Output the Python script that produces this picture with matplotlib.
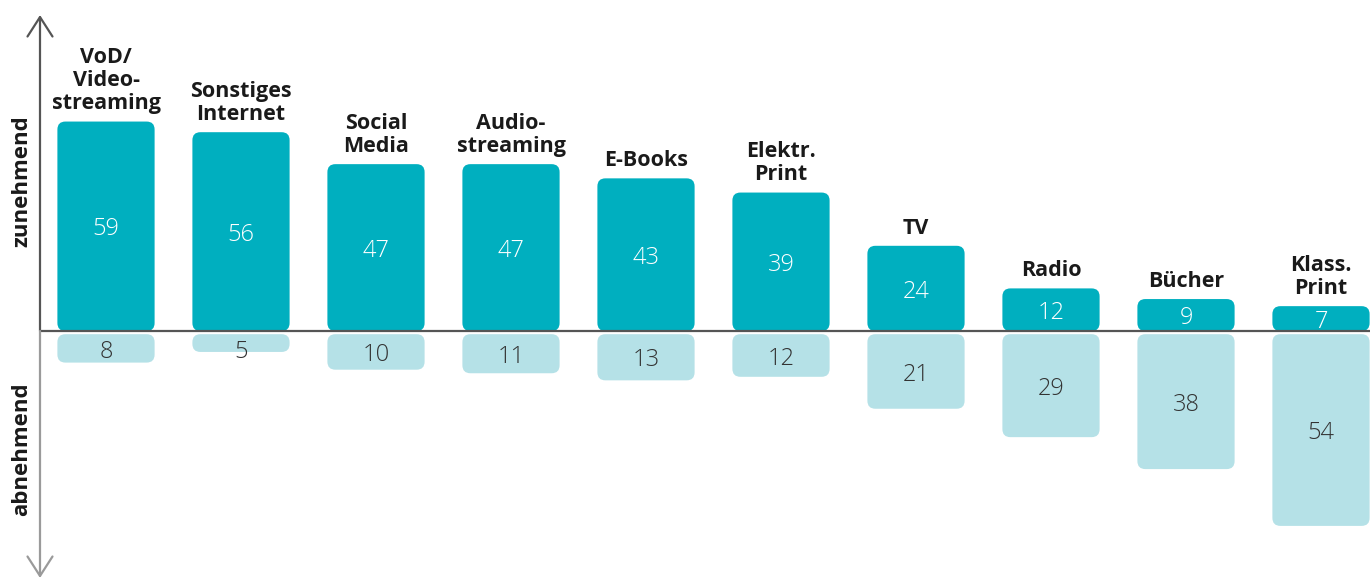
import matplotlib
matplotlib.use("Agg")
import matplotlib.pyplot as plt
from matplotlib.patches import FancyBboxPatch

plt.rcParams['font.family'] = ['Open Sans', 'DejaVu Sans']

categories = ["VoD/\nVideo-\nstreaming", "Sonstiges\nInternet", "Social\nMedia", "Audio-\nstreaming",
              "E-Books", "Elektr.\nPrint", "TV", "Radio", "Bücher", "Klass.\nPrint"]
zunehmend = [59, 56, 47, 47, 43, 39, 24, 12, 9, 7]
abnehmend = [8, 5, 10, 11, 13, 12, 21, 29, 38, 54]

dark = "#00afbf"
light = "#b5e1e7"

fig = plt.figure(figsize=(13.7, 5.78), dpi=100)
ax = fig.add_axes([0, 0, 1, 1])
ax.set_axis_off()

# pixel layout: bar centres 106 + 135*i, baseline at y=331, 3.55 px per unit
px_x, x0 = 135.0, 106.0
px_y, y0 = 3.55, 331.0
ax.set_xlim(-x0 / px_x, (1370 - x0) / px_x)
ax.set_ylim(-(578 - y0) / px_y, y0 / px_y)
aspect = px_x / px_y

w = 0.72
rad = 8 / px_x
gap = 0.9
shift = 0.9  # compensate text descent so digits sit centred

for i, (lab, up, down) in enumerate(zip(categories, zunehmend, abnehmend)):
    ax.add_patch(FancyBboxPatch((i - w / 2, 0), w, up,
                                boxstyle=f"round,pad=0,rounding_size={rad}",
                                mutation_aspect=aspect, fc=dark, ec="none", zorder=2))
    ax.add_patch(FancyBboxPatch((i - w / 2, -gap - down), w, down,
                                boxstyle=f"round,pad=0,rounding_size={rad}",
                                mutation_aspect=aspect, fc=light, ec="none", zorder=2))
    ax.text(i, up / 2 - shift, str(up), ha="center", va="center", color="white",
            fontsize=17, fontweight=300, zorder=3)
    ax.text(i, -gap - max(down / 2, 4.0) - shift, str(down), ha="center", va="center",
            color="#333333", fontsize=17, fontweight=300, zorder=3)
    ax.text(i, up + 2.0, lab, ha="center", va="bottom", color="#1a1a1a",
            fontsize=15.5, fontweight="bold", linespacing=1.15, zorder=3)

# axes with arrows
xa = (40 - x0) / px_x
ax.plot([xa, ax.get_xlim()[1]], [0, 0], color="#555555", lw=1.6, zorder=4,
        solid_capstyle="butt")
ax.annotate("", xy=(xa, (y0 - 15) / px_y), xytext=(xa, 0),
            arrowprops=dict(arrowstyle="->,head_length=1.4,head_width=0.9",
                            color="#555555", lw=1.6, shrinkA=0, shrinkB=0), zorder=4)
ax.annotate("", xy=(xa, -(578 - y0) / px_y), xytext=(xa, 0),
            arrowprops=dict(arrowstyle="->,head_length=1.4,head_width=0.9",
                            color="#9a9a9a", lw=1.6, shrinkA=0, shrinkB=0), zorder=4)

xl = (22 - x0) / px_x
ax.text(xl, (y0 - 181) / px_y, "zunehmend", rotation=90, ha="center", va="center",
        fontsize=16, fontweight="bold", color="#1a1a1a")
ax.text(xl, -(449 - y0) / px_y, "abnehmend", rotation=90, ha="center", va="center",
        fontsize=16, fontweight="bold", color="#1a1a1a")

fig.savefig("out.png", dpi=100)
